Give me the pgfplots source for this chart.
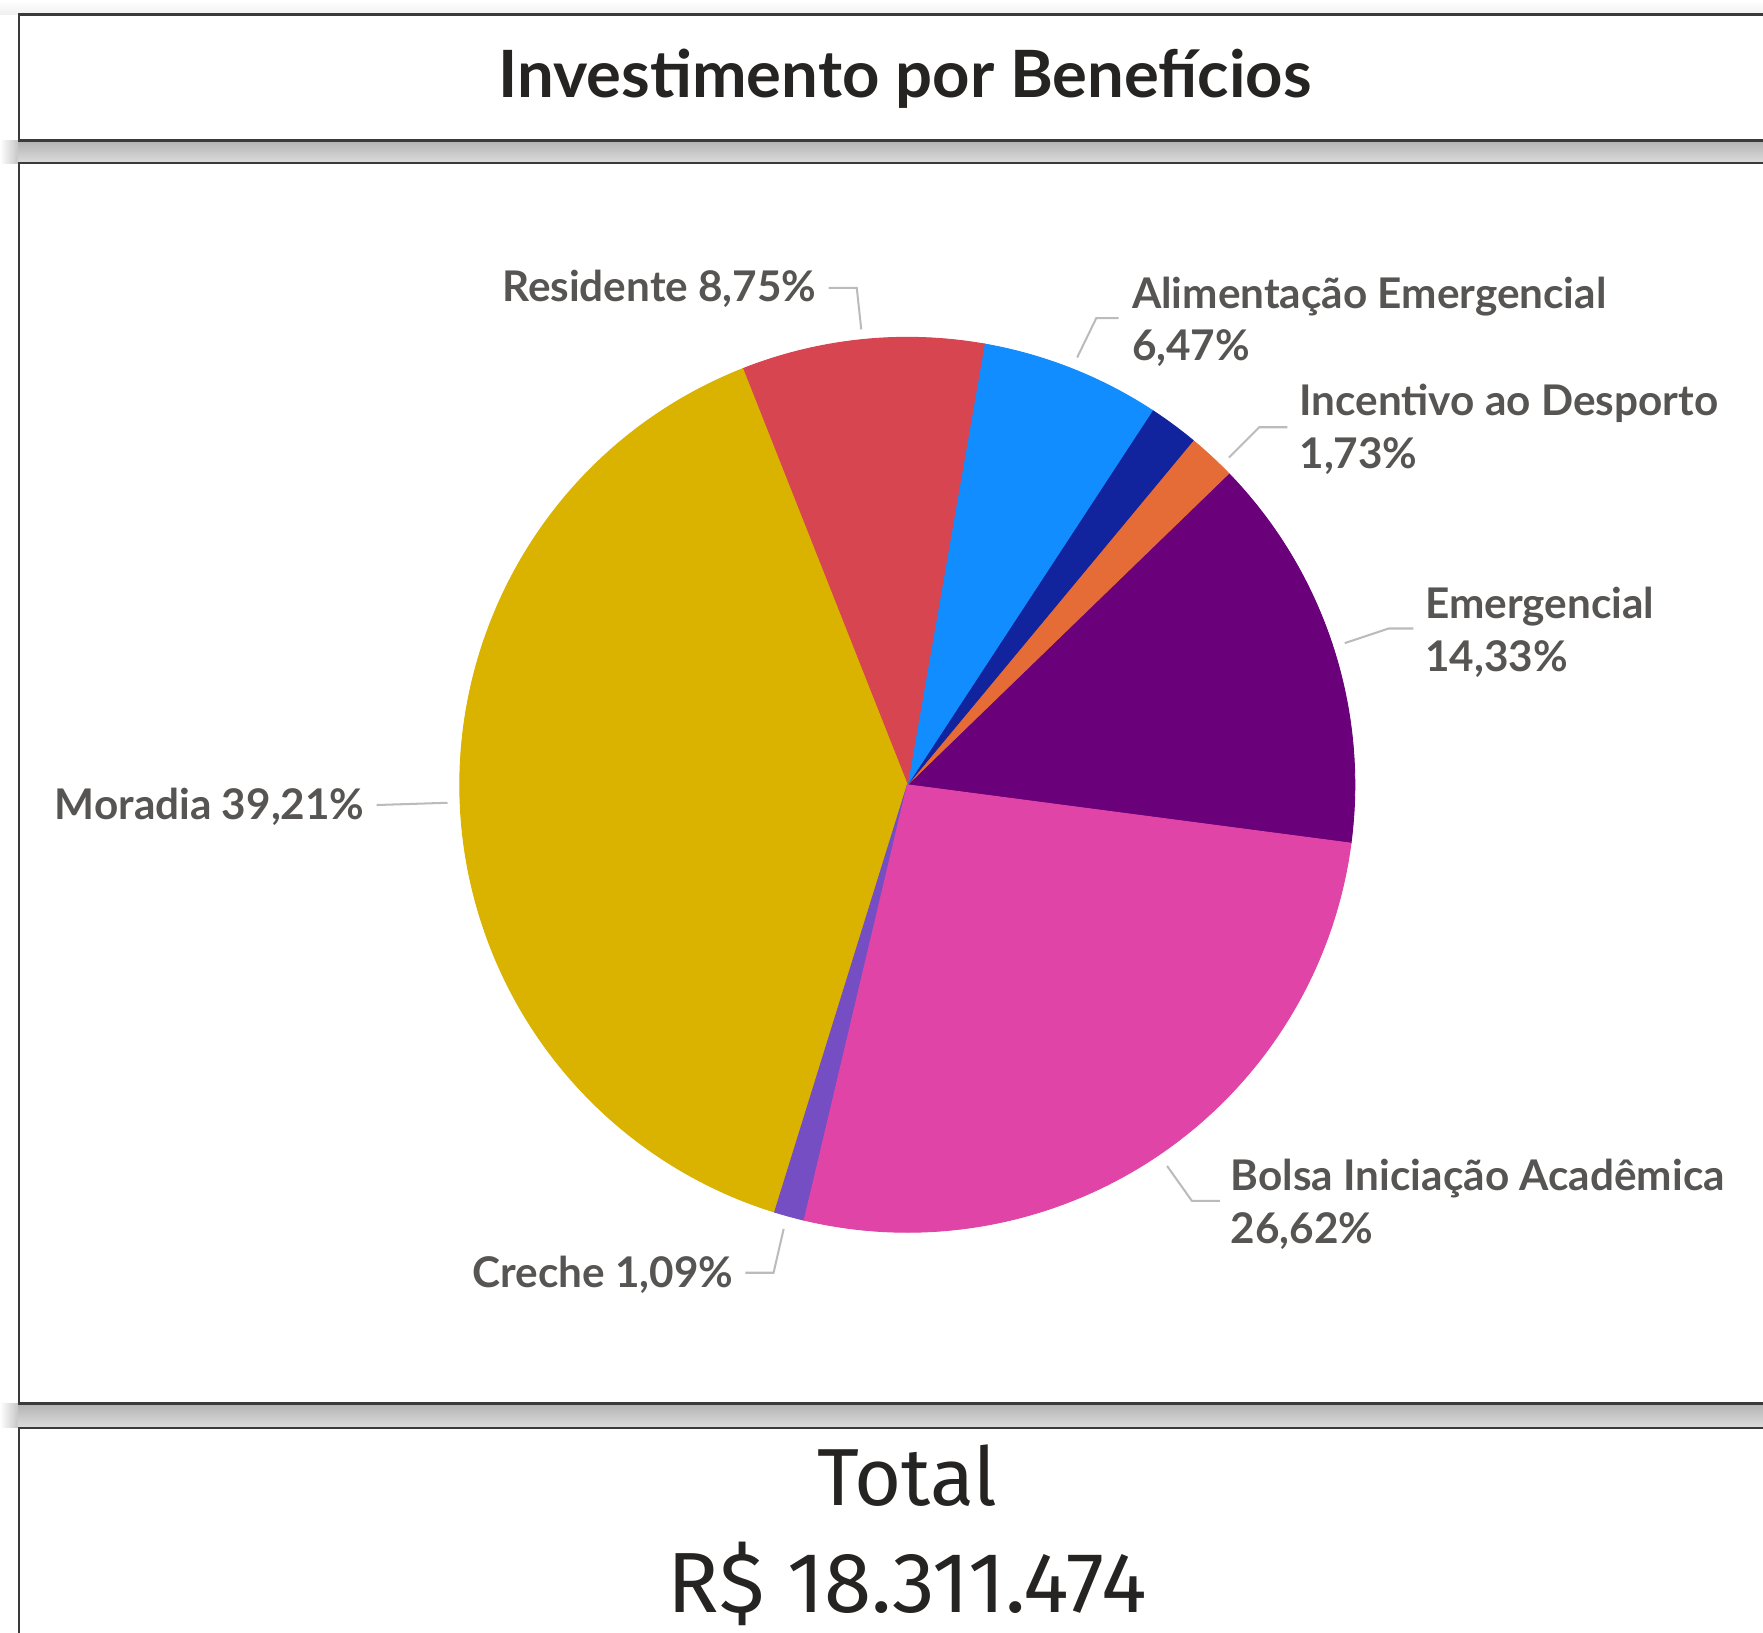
\documentclass[border=0pt]{standalone}
\usepackage{pgfplots}
\pgfplotsset{compat=1.18}
\usepackage{fontspec}
\setmainfont{Lato}
\newfontfamily\din{Fira Sans}
\definecolor{cEmerg}{HTML}{6B007B}
\definecolor{cInc}{HTML}{E66C37}
\definecolor{cNavy}{HTML}{12239E}
\definecolor{cAlim}{HTML}{118DFF}
\definecolor{cRes}{HTML}{D64550}
\definecolor{cMor}{HTML}{D9B300}
\definecolor{cCre}{HTML}{744EC2}
\definecolor{cBol}{HTML}{E044A7}
\definecolor{labgray}{HTML}{575553}
\definecolor{leadgray}{HTML}{BDBBB9}
\definecolor{titlec}{HTML}{252423}
\definecolor{panelline}{HTML}{3A3A3A}
\definecolor{shadowgray}{HTML}{C6C6C6}

% pie slice: colour, percentage; start angle accumulates
\def\piecum{0}
\newcommand\slice[2]{%
  \pgfmathsetmacro\sa{-7.5+3.6*\piecum}%
  \pgfmathsetmacro\se{-7.5+3.6*(\piecum+#2)}%
  \pgfmathsetmacro\newcum{\piecum+#2}%
  \xdef\piecum{\newcum}%
  \edef\doslice{\noexpand\addplot[draw=#1,line width=0.2pt,fill=#1,data cs=polar] coordinates {(0,0) (\sa,1)} arc[start angle=\sa, end angle=\se, radius=99.5pt] -- cycle;}%
  \doslice}

\begin{document}
\begin{tikzpicture}
\begin{scope}[x=0.25pt,y=-0.25pt]
\clip (0,0) rectangle (1568,1452);
\fill[white] (0,0) rectangle (1568,1452);
\fill[top color=white, bottom color=black!6] (0,0) rectangle (1568,13);
% shadows
\fill[top color=shadowgray!90!black, bottom color=shadowgray!60] (14,125) rectangle (1600,145);
\fill[top color=shadowgray!90!black, bottom color=shadowgray!60] (14,1248) rectangle (1600,1270);
\fill[left color=white, right color=shadowgray] (0,125) rectangle (16,145);
\fill[left color=white, right color=shadowgray] (0,1248) rectangle (16,1270);
% panels
\draw[panelline, line width=0.6pt, fill=white] (17,13) rectangle (1620,125);
\draw[panelline, line width=0.6pt, fill=white] (17,145) rectangle (1620,1248);
\draw[panelline, line width=0.6pt, fill=white] (17,1270) rectangle (1620,1520);
\end{scope}

\begin{axis}[at={(201.75pt,-174.5pt)}, anchor=center, hide axis, scale only axis,
  width=199pt, height=199pt, xmin=-1, xmax=1, ymin=-1, ymax=1, clip=false]
\slice{cEmerg}{14.33}
\slice{cInc}{1.73}
\slice{cNavy}{1.80}
\slice{cAlim}{6.47}
\slice{cRes}{8.75}
\slice{cMor}{39.21}
\slice{cCre}{1.09}
\slice{cBol}{26.62}
\end{axis}

\begin{scope}[x=0.25pt,y=-0.25pt]
\tikzset{lab/.style={text=labgray, font=\bfseries\fontsize{9.4}{11}\selectfont, inner sep=0pt},
         lead/.style={leadgray, line width=0.45pt}}
% title
\node[anchor=base, text=titlec, inner sep=0pt, font=\bfseries\fontsize{14.5}{16}\selectfont] at (805,87) {Investimento por Benefícios};
% labels
\node[lab, anchor=base east] at (727,268) {Residente 8,75\%};
\draw[lead] (737,256) -- (762,256) -- (766,293);
\node[lab, anchor=base west] at (1006,274) {Alimentação Emergencial};
\node[lab, anchor=base west] at (1006,321) {6,47\%};
\draw[lead] (995,283) -- (975,283) -- (958,318);
\node[lab, anchor=base west] at (1155,370) {Incentivo ao Desporto};
\node[lab, anchor=base west] at (1155,417) {1,73\%};
\draw[lead] (1145,380) -- (1120,380) -- (1093,407);
\node[lab, anchor=base west] at (1267,550) {Emergencial};
\node[lab, anchor=base west] at (1267,597) {14,33\%};
\draw[lead] (1257,559) -- (1235,559) -- (1196,572);
\node[lab, anchor=base west] at (1094,1059) {Bolsa Iniciação Acadêmica};
\node[lab, anchor=base west] at (1094,1106) {26,62\%};
\draw[lead] (1085,1068) -- (1060,1068) -- (1038,1037);
\node[lab, anchor=base east] at (653,1145) {Creche 1,09\%};
\draw[lead] (663,1132) -- (688,1132) -- (697,1093);
\node[lab, anchor=base east] at (325,729) {Moradia 39,21\%};
\draw[lead] (335,716) -- (398,714);
% total card
\node[anchor=base, text=titlec, inner sep=0pt, font=\din\fontsize{18}{20}\selectfont] at (807,1339) {Total};
\node[anchor=base, text=titlec, inner sep=0pt, font=\din\fontsize{19}{21}\selectfont] at (807,1434) {R\$ 18.311.474};
\end{scope}
\pgfresetboundingbox
\path[use as bounding box] (0,0) rectangle (392pt,-363pt);
\end{tikzpicture}
\end{document}
